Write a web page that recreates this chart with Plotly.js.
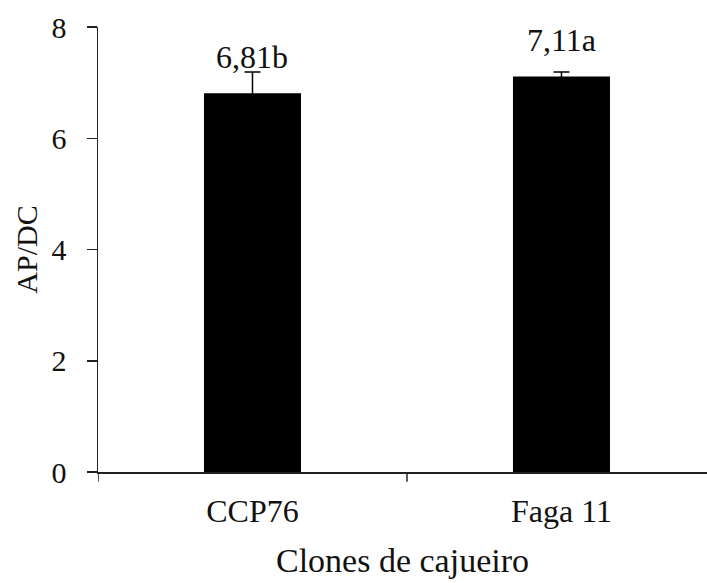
<!DOCTYPE html>
<html>
<head>
<meta charset="utf-8">
<script src="https://cdn.plot.ly/plotly-3.0.1.min.js"></script>
<style>html,body{margin:0;padding:0;background:#fff;overflow:hidden}</style>
</head>
<body>
<div id="chart" style="width:707px;height:583px"></div>
<div id="dbg" style="position:absolute;left:0;top:0;width:1px;height:1px;overflow:hidden;font:8px monospace;color:rgba(0,0,0,0);white-space:pre-wrap"></div>
<script>
const categories = ["CCP76", "Faga 11"];
const values = [6.81, 7.11];
const errors = [0.38, 0.08];
const labels = ["6,81b", "7,11a"];
const yTicks = [0, 2, 4, 6, 8];

const font = "Liberation Serif";

const trace = {
  type: "bar",
  x: [0, 1],
  y: values,
  width: 0.314,
  marker: {color: "#000000", line: {width: 0}},
  error_y: {type: "data", array: errors, visible: true, color: "#000000", thickness: 1.5, width: 8},
  hoverinfo: "skip"
};

const annotations = values.map((v, i) => ({
  x: i, y: v + errors[i], xref: "x", yref: "y",
  text: labels[i], showarrow: false, yanchor: "bottom",
  yshift: i === 0 ? -5 : 12,
  font: {family: font, size: 32, color: "#111"}
}));

const layout = {
  width: 707, height: 583,
  margin: {l: 98, r: 0, t: 27, b: 111},
  font: {family: font, size: 30, color: "#111"},
  showlegend: false,
  xaxis: {
    range: [-0.5, 1.471],
    tickmode: "array", tickvals: [0, 1], ticktext: categories,
    showline: true, linecolor: "#222", linewidth: 1.5,
    showgrid: false, zeroline: false,
    ticklabelstandoff: 10,
    tickfont: {family: font, size: 32, color: "#111"},
    automargin: true,
    title: {text: "Clones de cajueiro", font: {family: font, size: 34, color: "#111"}, standoff: 20}
  },
  yaxis: {
    range: [0, 8], tickmode: "array", tickvals: yTicks,
    showline: true, linecolor: "#222", linewidth: 1.5,
    ticks: "outside", ticklen: 10, tickwidth: 1.5, tickcolor: "#222",
    showgrid: false, zeroline: false,
    ticklabelstandoff: 14,
    tickfont: {family: font, size: 30, color: "#111"},
    automargin: true,
    title: {text: "AP/DC", font: {family: font, size: 30, color: "#111"}, standoff: 5}
  },
  shapes: [-0.5, 0.5, 1.5].map(b => ({
    type: "line", xref: "x", yref: "paper", x0: b, x1: b, y0: 0, y1: -0.022,
    line: {color: "#222", width: 1.5}
  })),
  annotations: annotations
};

Plotly.newPlot("chart", [trace], layout, {displayModeBar: false, staticPlot: true}).then(gd => {
  const texts = document.querySelectorAll('.xtick text, .ytick text');
  let s = 'n=' + texts.length + ' ';
  texts.forEach((t, i) => { if (i < 2) s += getComputedStyle(t).fontFamily + '|' + (t.getAttribute('style') || '').slice(0, 40) + ' '; });
  document.getElementById('dbg').textContent = s;
});
</script>
</body>
</html>
